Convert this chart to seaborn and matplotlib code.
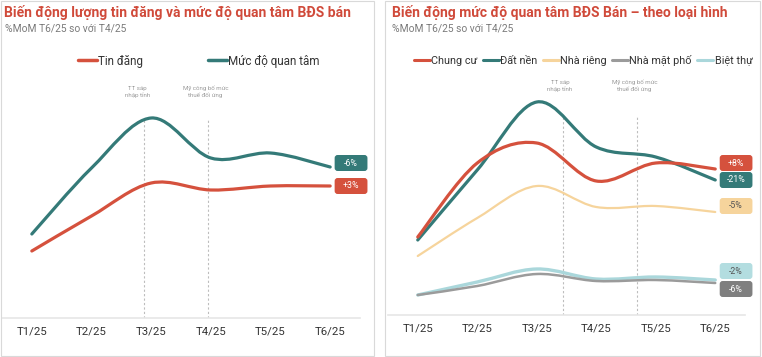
import numpy as np
import matplotlib.pyplot as plt
import seaborn as sns
from matplotlib.path import Path
from matplotlib.patches import PathPatch, FancyBboxPatch, Rectangle
from matplotlib.lines import Line2D

sns.set_theme(style='white')
plt.rcParams['font.family'] = ['Roboto', 'DejaVu Sans']

months = ['T1/25', 'T2/25', 'T3/25', 'T4/25', 'T5/25', 'T6/25']

# left chart (relative index, y axis hidden)
tin_dang = [67, 102, 135, 128, 132, 132]
quan_tam = [84, 150, 200, 160, 165, 151]
left_names = ['Tin đăng', 'Mức độ quan tâm']
left_pct = ['+3%', '-6%']

# right chart
chung_cu = [78, 152, 172, 134, 152, 146]
dat_nen = [75, 145, 213, 168, 158, 135]
nha_rieng = [59, 97, 129, 108, 109, 103]
nha_mat_pho = [20, 29, 41, 34, 35, 32]
biet_thu = [20, 33, 46, 36, 38, 35]
right_names = ['Chung cư', 'Đất nền', 'Nhà riêng', 'Nhà mặt phố', 'Biệt thự']
right_pct = ['+8%', '-21%', '-5%', '-6%', '-2%']

# event markers (position between months)
left_events = [1.885, 2.96]
right_events = [2.44, 3.69]
event_text = ['TT sáp\nnhập tỉnh', 'Mỹ công bố mức\nthuế đối ứng']

RED = '#d5513d'
TEAL = '#347a78'
YELLOW = '#f6d49c'
GREY = '#9b9b9b'
LBLUE = '#aad7db'
TITLE_RED = '#d04a3a'

W, H = 762, 357
fig = plt.figure(figsize=(W / 100, H / 100), dpi=100)


def px_axes(x0, x1, ytop, ybot):
    return fig.add_axes([x0 / W, 1 - ybot / H, (x1 - x0) / W, (ybot - ytop) / H])


def smooth(xs, ys):
    pts = np.column_stack([xs, ys]).astype(float)
    p = np.vstack([pts[0], pts, pts[-1]])
    verts = [pts[0]]
    codes = [Path.MOVETO]
    for i in range(1, len(p) - 2):
        c1 = p[i] + (p[i + 1] - p[i - 1]) / 6
        c2 = p[i + 1] - (p[i + 2] - p[i]) / 6
        verts += [c1, c2, p[i + 1]]
        codes += [Path.CURVE4] * 3
    return Path(verts, codes)


def draw_line(ax, ys, color, lw):
    xs = np.arange(len(ys))
    ax.add_patch(PathPatch(smooth(xs, ys), fill=False, edgecolor=color,
                           lw=lw, capstyle='round', joinstyle='round', zorder=3))


def tag(ax, y, text, fc, tc):
    w, h = 0.55, 16
    ax.add_patch(FancyBboxPatch((5.35 - w / 2, y - h / 2), w, h,
                                boxstyle='round,pad=0,rounding_size=0.05',
                                mutation_aspect=59.4, fc=fc, ec='none',
                                clip_on=False, zorder=5))
    ax.text(5.35, y, text, ha='center', va='center', fontsize=6.3,
            color=tc, zorder=6, clip_on=False)


def style_axes(ax, top):
    ax.set_xlim(-0.5, 5.5)
    ax.set_ylim(0, top)
    ax.set_xticks(range(len(months)))
    ax.set_xticklabels(months, fontsize=8.2, color='#333333')
    ax.set_yticks([])
    ax.tick_params(axis='x', length=0, pad=6)
    sns.despine(ax=ax, left=True, top=True, right=True)
    ax.spines['bottom'].set_color('#e6e6e6')
    ax.spines['bottom'].set_linewidth(1.2)
    ax.patch.set_alpha(0)


def events(ax, xs, text_xs, text_y):
    for x in xs:
        ax.plot([x, x], [0, 200], color='#bdbdbd', lw=0.8, ls=(0, (2, 2)), zorder=1)
    for x, t in zip(text_xs, event_text):
        ax.text(x, text_y, t, ha='center', va='center', fontsize=4.4,
                color='#9a9a9a', linespacing=1.4, clip_on=False)


# panel frames
fig.patches.append(Rectangle((1 / W, 1 / H), 373 / W, 355 / H, transform=fig.transFigure,
                             fill=False, ec='#d9d9d9', lw=0.8))
fig.patches.append(Rectangle((385 / W, 1 / H), 375 / W, 355 / H, transform=fig.transFigure,
                             fill=False, ec='#d9d9d9', lw=0.8))


def fit_text(x, y, s, width_px, **kw):
    t = fig.text(x / W, 1 - y / H, s, va='center', ha='left', **kw)
    r = fig.canvas.get_renderer()
    bb = t.get_window_extent(r)
    t.set_fontsize(t.get_fontsize() * width_px / bb.width)
    return t


fit_text(4, 13, 'Biến động lượng tin đăng và mức độ quan tâm BĐS bán', 347,
         fontsize=10, fontweight='bold', color=TITLE_RED)
fit_text(5, 29, '%MoM T6/25 so với T4/25', 122, fontsize=8, color='#7a7a7a')
fit_text(392, 13, 'Biến động mức độ quan tâm BĐS Bán – theo loại hình', 335,
         fontsize=10, fontweight='bold', color=TITLE_RED)
fit_text(392, 29, '%MoM T6/25 so với T4/25', 122, fontsize=8, color='#7a7a7a')

# left chart
ax1 = px_axes(2, 360, 100, 318)
style_axes(ax1, 218)
events(ax1, left_events, [1.77, 2.91], 226)
draw_line(ax1, tin_dang, RED, 2.3)
draw_line(ax1, quan_tam, TEAL, 2.3)
tag(ax1, quan_tam[-1] + 4, left_pct[1], TEAL, 'white')
tag(ax1, tin_dang[-1], left_pct[0], RED, 'white')
h1 = [Line2D([], [], color=c, lw=2.5) for c in (RED, TEAL)]
fig.legend(h1, left_names, loc='center', bbox_to_anchor=(199 / W, 1 - 61 / H),
           ncol=2, frameon=False, fontsize=8.4, handlelength=1.6, handletextpad=0.1,
           columnspacing=5.6, labelcolor='#333333')

# right chart
ax2 = px_axes(388, 745, 100, 315)
style_axes(ax2, 215)
events(ax2, right_events, [2.39, 3.64], 229)
draw_line(ax2, biet_thu, LBLUE, 2.4)
draw_line(ax2, nha_mat_pho, GREY, 1.8)
draw_line(ax2, nha_rieng, YELLOW, 1.6)
draw_line(ax2, dat_nen, TEAL, 2.3)
draw_line(ax2, chung_cu, RED, 2.3)
tag(ax2, chung_cu[-1] + 6, right_pct[0], RED, 'white')
tag(ax2, dat_nen[-1], right_pct[1], TEAL, 'white')
tag(ax2, nha_rieng[-1] + 6, right_pct[2], YELLOW, '#555555')
tag(ax2, biet_thu[-1] + 9, right_pct[4], '#b3dde0', '#555555')
tag(ax2, nha_mat_pho[-1] - 6, right_pct[3], '#7f7f7f', 'white')
h2 = [Line2D([], [], color=c, lw=2.2) for c in (RED, TEAL, YELLOW, GREY, LBLUE)]
fig.legend(h2, right_names, loc='center', bbox_to_anchor=(583 / W, 1 - 60 / H),
           ncol=5, frameon=False, fontsize=7.8, handlelength=1.5, handletextpad=0.1,
           columnspacing=0.5, labelcolor='#333333')

fig.savefig('out.png', dpi=100)
